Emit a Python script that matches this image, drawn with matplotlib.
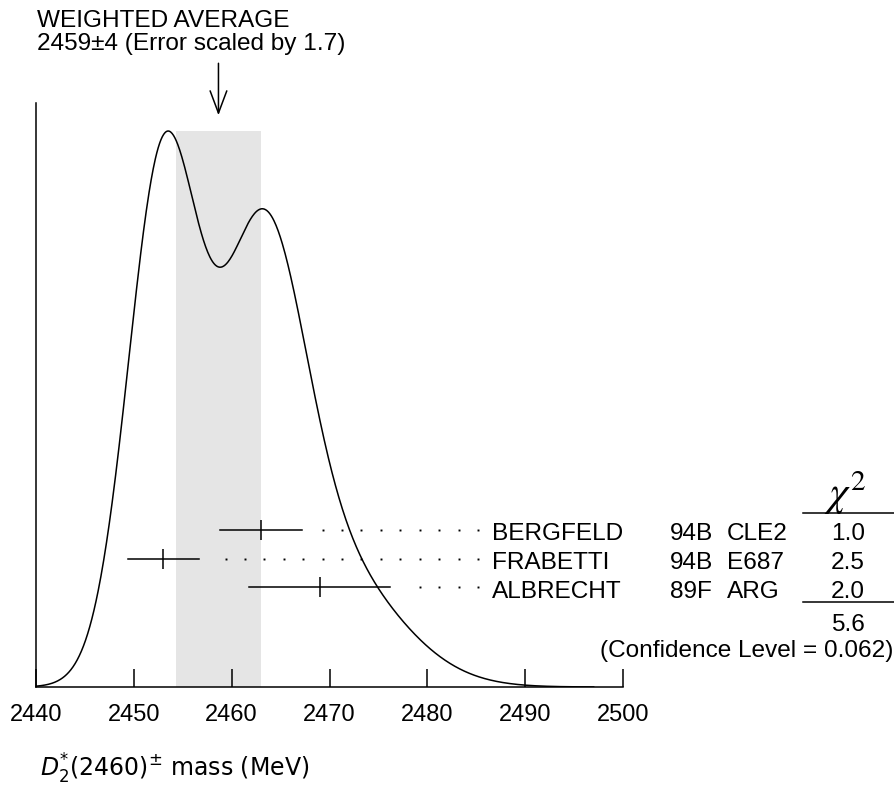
import numpy as np
import matplotlib
matplotlib.use('Agg')
import matplotlib.pyplot as plt
from matplotlib.lines import Line2D
from matplotlib.transforms import blended_transform_factory

# ---- data ----
names = ['BERGFELD', 'FRABETTI', 'ALBRECHT']
refs = ['94B', '94B', '89F']
expts = ['CLE2', 'E687', 'ARG']
values = [2463.0, 2453.0, 2469.0]
errors = [4.24, 3.61, 7.21]
chi2 = ['1.0', '2.5', '2.0']
chi2_total = '5.6'
conf_level = '0.062'
avg_value = 2458.65
avg_error = 4.3
title1 = 'WEIGHTED AVERAGE'
title2 = '2459\u00b14 (Error scaled by 1.7)'
xticks = [2440, 2450, 2460, 2470, 2480, 2490, 2500]

plt.rcParams['font.family'] = ['Liberation Sans', 'DejaVu Sans']

W, H = 895, 791
fig = plt.figure(figsize=(W / 100, H / 100), dpi=100)
ax = fig.add_axes([36 / W, (H - 687) / H, 587 / W, 584 / H])

# ideogram: Gaussians with area proportional to 1/error
x = np.linspace(2440, 2497, 800)
y = np.zeros_like(x)
for v, e in zip(values, errors):
    y += np.exp(-(x - v) ** 2 / (2 * e ** 2)) / e ** 2
ymax = y.max()

ax.fill_between([avg_value - avg_error, avg_value + avg_error], 0, ymax,
                color='#e5e5e5', lw=0, zorder=0)
ax.plot(x, y, color='black', lw=1.1, zorder=3)

ax.set_xlim(2440, 2500)
ax.set_ylim(0, ymax / 0.952)
ax.spines['top'].set_visible(False)
ax.spines['right'].set_visible(False)
for s in ['left', 'bottom']:
    ax.spines[s].set_linewidth(1.1)
ax.set_yticks([])
ax.set_xticks(xticks)
ax.set_xticklabels([str(t) for t in xticks])
ax.tick_params(axis='x', direction='in', length=13, width=1.1, pad=12,
               labelsize=17)

# measurements
tr = ax.get_xaxis_transform()
row_y = [0.269, 0.2195, 0.171]
dot_last = 2485.18
dot_step = 1.985
for v, e, ry in zip(values, errors, row_y):
    ax.plot([v - e, v + e], [ry, ry], transform=tr, color='black', lw=1.1,
            clip_on=False, zorder=4)
    ax.plot([v], [ry], transform=tr, marker='|', ms=15, mew=1.1,
            color='black', clip_on=False, zorder=4)
    dots = np.arange(dot_last, v + e + 1.5, -dot_step)
    ax.plot(dots, [ry] * len(dots), transform=tr, ls='none', marker='s',
            ms=1.4, mew=0, color='black', clip_on=False)

# arrow for the average
ax.annotate('', xy=(avg_value, 0.979), xytext=(avg_value, 1.068),
            xycoords=('data', 'axes fraction'),
            textcoords=('data', 'axes fraction'),
            arrowprops=dict(arrowstyle='->,head_length=0.8,head_width=0.3',
                            lw=1.1, color='black',
                            mutation_scale=20, shrinkA=0, shrinkB=0),
            annotation_clip=False)

fs = 17.6
fig.text(37 / W, 1 - 27 / H, title1, fontsize=fs, va='baseline', ha='left')
fig.text(37 / W, 1 - 50 / H, title2, fontsize=fs, va='baseline', ha='left')

bt = blended_transform_factory(fig.transFigure, ax.transAxes)
for nm, rf, ex, c2, ry in zip(names, refs, expts, chi2, row_y):
    yb = ry - 0.018
    fig.text(492 / W, yb, nm, transform=bt, fontsize=fs, va='baseline')
    fig.text(670 / W, yb, rf, transform=bt, fontsize=fs, va='baseline')
    fig.text(727 / W, yb, ex, transform=bt, fontsize=fs, va='baseline')
    fig.text(848 / W, yb, c2, transform=bt, fontsize=fs, va='baseline',
             ha='center')

fig.text(845 / W, 1 - 493 / H, r'$\chi^2$', fontsize=30, ha='center',
         va='center', math_fontfamily='stix')
fig.add_artist(Line2D([803 / W, 1.0], [1 - 513 / H, 1 - 513 / H],
                      color='black', lw=1.1))
fig.add_artist(Line2D([803 / W, 1.0], [1 - 602 / H, 1 - 602 / H],
                      color='black', lw=1.1))
fig.text(848 / W, 1 - 631 / H, chi2_total, fontsize=fs, ha='center',
         va='baseline')
fig.text(893 / W, 1 - 657 / H, '(Confidence Level = %s)' % conf_level,
         fontsize=fs, ha='right', va='baseline')

fig.text(40 / W, 1 - 777 / H, r'$D_2^{*}(2460)^{\pm}$ mass (MeV)',
         fontsize=17, family='DejaVu Sans', ha='left', va='baseline')

fig.savefig('out.png', dpi=100)
